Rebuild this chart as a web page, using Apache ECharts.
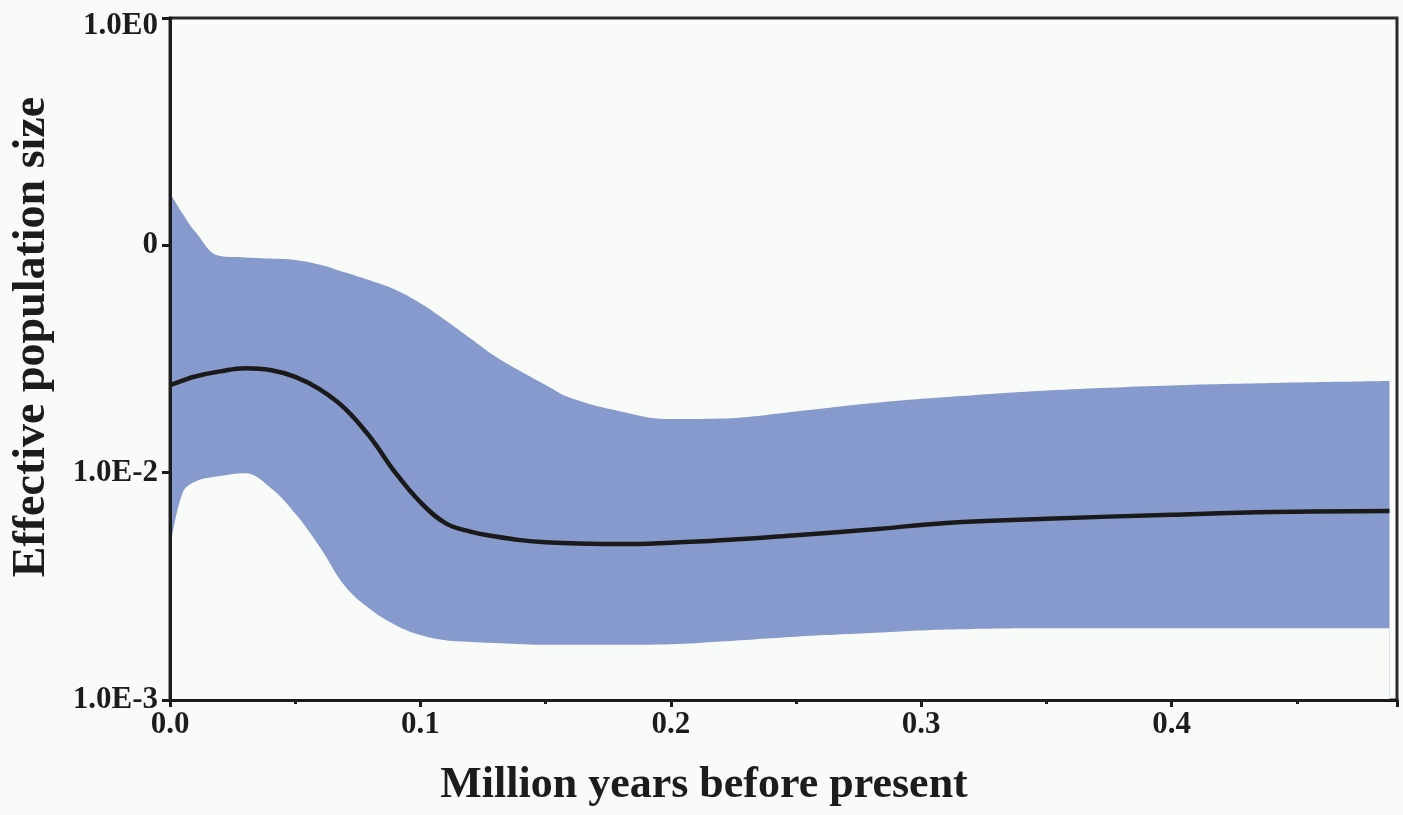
<!DOCTYPE html>
<html>
<head>
<meta charset="utf-8">
<script src="https://cdn.jsdelivr.net/npm/echarts@6/dist/echarts.min.js"></script>
<style>
html,body{margin:0;padding:0;background:#f9fbf9;}
#chart{width:1403px;height:815px;}
</style>
</head>
<body>
<div id="chart"></div>
<script>
// Time (million years before present)
const times = [0, 0.005, 0.01, 0.02, 0.03, 0.04, 0.05, 0.06, 0.07, 0.08, 0.09, 0.10, 0.11, 0.12, 0.13, 0.14, 0.15, 0.16, 0.18, 0.20, 0.22, 0.25, 0.28, 0.31, 0.35, 0.40, 0.44, 0.487];
// Median effective population size
const median = [0.0243, 0.0254, 0.0265, 0.0279, 0.0288, 0.0283, 0.0264, 0.0232, 0.0191, 0.0143, 0.0100, 0.00741, 0.0060, 0.0055, 0.00524, 0.00505, 0.00494, 0.00489, 0.00485, 0.00492, 0.00504, 0.00531, 0.00562, 0.00601, 0.00627, 0.00653, 0.00671, 0.00678];
// Upper 95% HPD
const upper = [0.170, 0.138, 0.115, 0.0897, 0.0885, 0.0875, 0.0863, 0.0822, 0.0759, 0.0700, 0.0638, 0.0556, 0.0468, 0.0389, 0.0324, 0.0279, 0.0243, 0.0213, 0.0186, 0.0172, 0.0173, 0.0186, 0.0202, 0.0215, 0.0230, 0.0242, 0.0248, 0.0253];
// Lower 95% HPD
const lower = [0.00457, 0.00813, 0.00912, 0.00966, 0.00995, 0.00861, 0.00661, 0.00468, 0.00316, 0.00251, 0.00214, 0.00193, 0.00183, 0.00180, 0.00178, 0.00176, 0.00175, 0.00175, 0.00175, 0.00176, 0.00181, 0.00190, 0.00197, 0.00204, 0.00207, 0.00207, 0.00207, 0.00207];

const xTickValues = [0, 0.1, 0.2, 0.3, 0.4];
const xTickLabels = ['0.0', '0.1', '0.2', '0.3', '0.4'];
const yTickValues = [1, 0.1, 0.01, 0.001];
const yTickLabels = ['1.0E0', '0', '1.0E-2', '1.0E-3'];

const xTitle = 'Million years before present';
const yTitle = 'Effective population size';

const FONT = '"Liberation Serif", "Times New Roman", serif';
const INK = '#1c1c1c';
const BG = '#f9fbf9';
const BAND = '#879acd';

const upperData = times.map((t, i) => [t, upper[i]]);
const lowerData = times.map((t, i) => [t, lower[i]]);
const medianData = times.map((t, i) => [t, median[i]]);

function matchLabel(v, vals, labels) {
  for (let i = 0; i < vals.length; i++) {
    if (Math.abs(v - vals[i]) < vals[i] * 1e-6 + 1e-9) return labels[i];
  }
  return '';
}

const chart = echarts.init(document.getElementById('chart'), null, {renderer: 'canvas'});
chart.setOption({
  backgroundColor: BG,
  animation: false,
  grid: {
    left: 170, right: 6, top: 18, bottom: 115,
    show: true, borderColor: '#2a2a2a', borderWidth: 3, backgroundColor: 'transparent'
  },
  xAxis: {
    type: 'value',
    min: 0, max: 0.49, interval: 0.1,
    z: 10,
    name: xTitle,
    nameLocation: 'middle',
    nameGap: 64,
    nameTextStyle: {fontFamily: FONT, fontWeight: 'bold', fontSize: 44, color: INK, padding: [0, 159, 0, 0]},
    axisLine: {show: true, lineStyle: {color: INK, width: 3}},
    axisTick: {show: true, length: 7, lineStyle: {color: INK, width: 3}},
    minorTick: {show: true, splitNumber: 2, length: 4, lineStyle: {color: INK, width: 3}},
    splitLine: {show: false},
    axisLabel: {
      showMaxLabel: false,
      margin: 9,
      fontFamily: FONT, fontWeight: 'bold', fontSize: 31, color: INK,
      formatter: v => matchLabel(v, xTickValues, xTickLabels)
    }
  },
  yAxis: {
    type: 'log',
    logBase: 10,
    min: 0.001, max: 1,
    z: 10,
    name: yTitle,
    nameLocation: 'middle',
    nameGap: 115,
    nameRotate: 90,
    nameTextStyle: {fontFamily: FONT, fontWeight: 'bold', fontSize: 46, color: INK, padding: [0, 0, 0, 44]},
    axisLine: {show: true, lineStyle: {color: INK, width: 3}},
    axisTick: {show: true, length: 8, lineStyle: {color: INK, width: 3}},
    minorTick: {show: false},
    splitLine: {show: false},
    axisLabel: {
      margin: 12,
      fontFamily: FONT, fontWeight: 'bold', fontSize: 31, color: INK,
      formatter: v => {
        const s = matchLabel(v, yTickValues, yTickLabels);
        return v > 0.5 ? '{top|' + s + '}' : s;
      },
      rich: {
        top: {fontFamily: FONT, fontWeight: 'bold', fontSize: 31, color: INK, padding: [16, 0, 0, 0]}
      }
    }
  },
  series: [
    {
      name: 'upper',
      type: 'line',
      data: upperData,
      smooth: 0.4,
      showSymbol: false,
      lineStyle: {width: 0, opacity: 0},
      areaStyle: {color: BAND, opacity: 1, origin: 'start'},
      silent: true,
      z: 2
    },
    {
      name: 'lower',
      type: 'line',
      data: lowerData,
      smooth: 0.4,
      showSymbol: false,
      lineStyle: {width: 0, opacity: 0},
      areaStyle: {color: BG, opacity: 1, origin: 'start'},
      silent: true,
      z: 2
    },
    {
      name: 'median',
      type: 'line',
      data: medianData,
      smooth: 0.4,
      showSymbol: false,
      lineStyle: {color: '#1a1a1a', width: 4.5},
      z: 3
    }
  ]
});
</script>
</body>
</html>
